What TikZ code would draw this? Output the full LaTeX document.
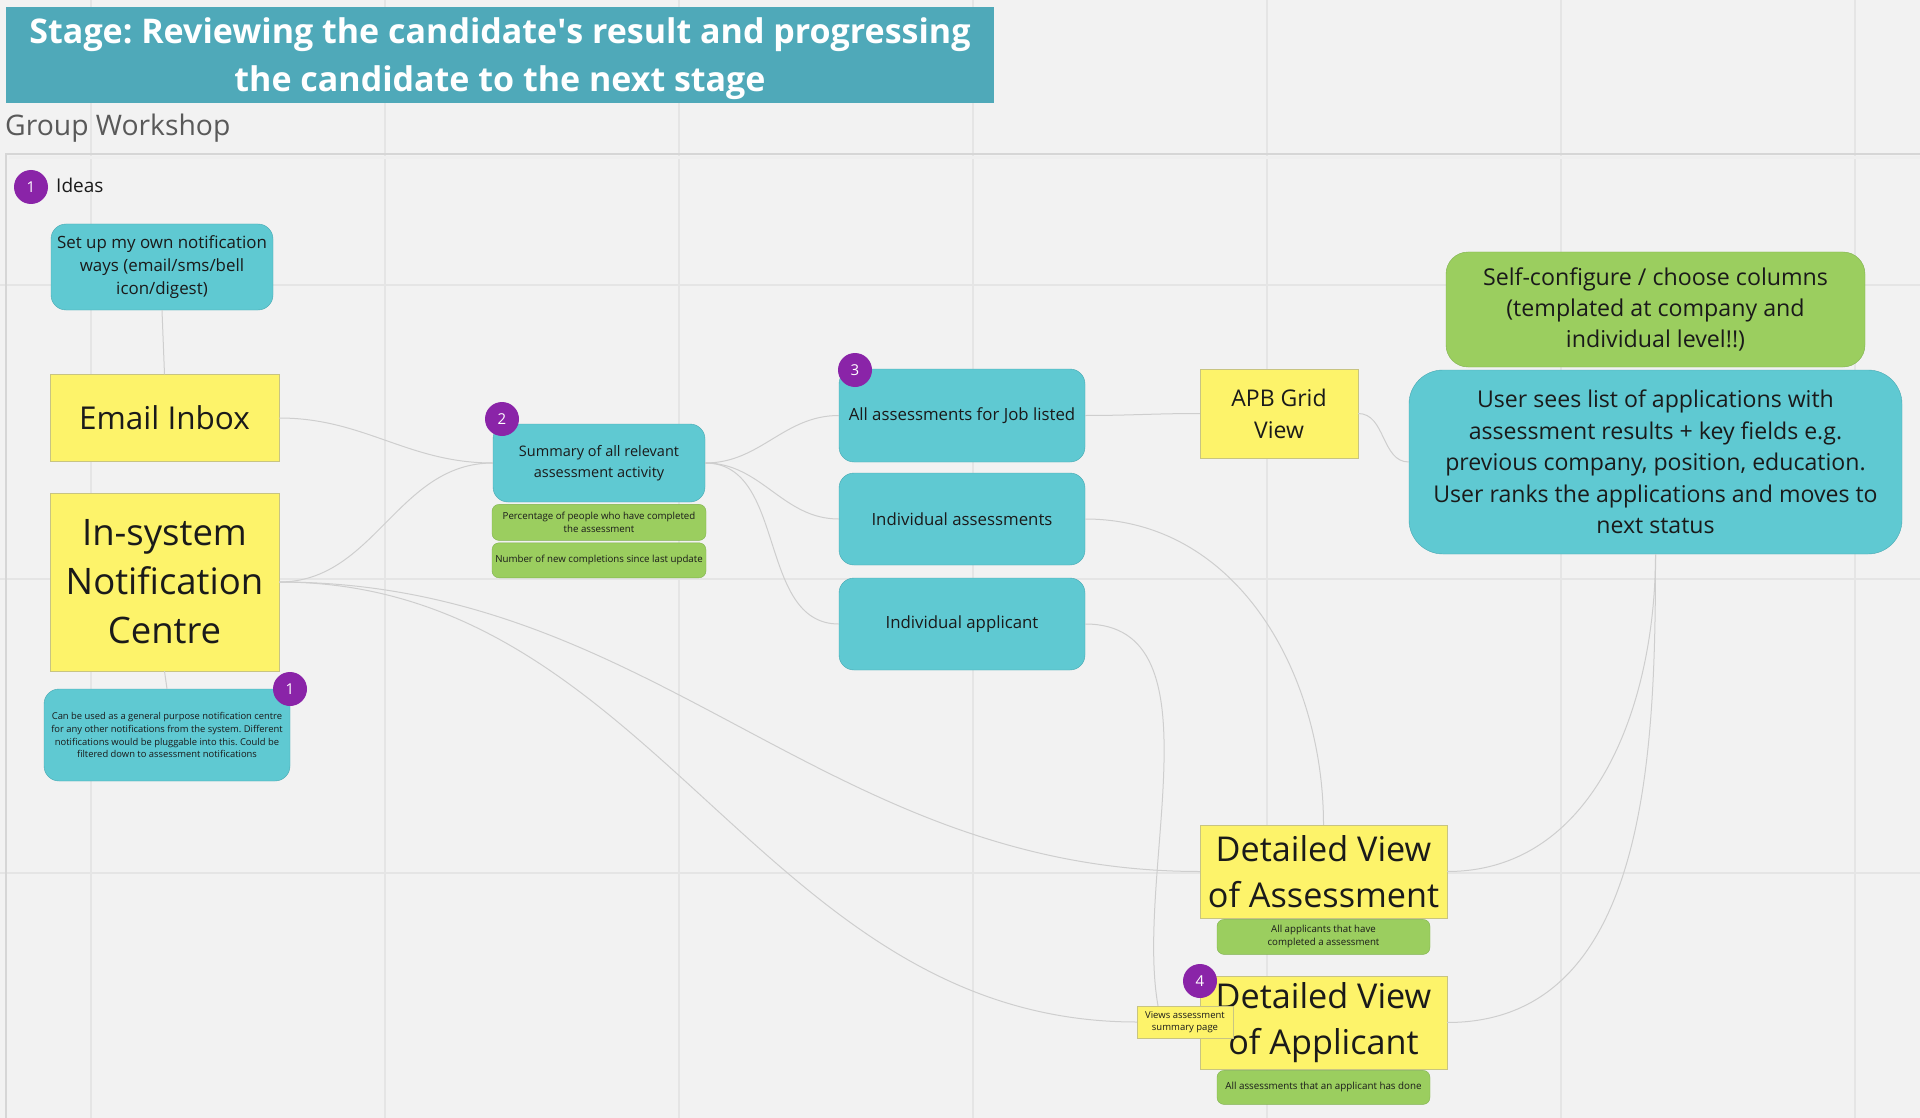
\documentclass[tikz,border=0pt]{standalone}
\usepackage{fontspec}
\setmainfont{Open Sans}
\usetikzlibrary{positioning, calc}
\frenchspacing
\definecolor{boardgrey}{RGB}{242,242,242}
\definecolor{gridgrey}{RGB}{229,229,229}
\definecolor{framegrey}{RGB}{214,214,214}
\definecolor{bannerteal}{RGB}{79,169,185}
\definecolor{ideacyan}{RGB}{95,201,210}
\definecolor{ideacyanline}{RGB}{72,168,178}
\definecolor{stickyyellow}{RGB}{253,243,106}
\definecolor{stickyline}{RGB}{200,196,130}
\definecolor{notegreen}{RGB}{155,206,95}
\definecolor{notegreenline}{RGB}{128,178,78}
\definecolor{badgepurple}{RGB}{138,36,168}
\definecolor{linkgrey}{RGB}{206,206,206}
\definecolor{inktext}{RGB}{26,26,26}
\newcommand{\fsz}[2]{\fontsize{#1}{#2}\selectfont}
\tikzset{
	idea/.style={draw=ideacyanline, fill=ideacyan, rounded corners=15pt, align=center, text=inktext, inner sep=0pt},
	screen/.style={draw=stickyline, fill=stickyyellow, align=center, text=inktext, inner sep=0pt},
	note/.style={draw=notegreenline, fill=notegreen, rounded corners=7pt, align=center, text=inktext, inner sep=0pt},
	badge/.style={circle, fill=badgepurple, text=white, minimum size=34pt, inner sep=0pt, font=\fsz{15}{18}},
	link/.style={draw=linkgrey, line width=1pt}
}

\begin{document}
\begin{tikzpicture}[x=1pt, y=-1pt]
	\useasboundingbox (0,0) rectangle (1920,1118);
	\fill[boardgrey] (0,0) rectangle (1920,1118);
	% board grid
	\foreach \gx in {91,385,...,1920} \draw[gridgrey, line width=1.5pt] (\gx,0) -- (\gx,1118);
	\foreach \gy in {285,579,873} \draw[gridgrey, line width=1.5pt] (0,\gy) -- (1920,\gy);
	\draw[framegrey, line width=2pt] (1930,154) -- (6,154) -- (6,1130);
	\draw[gridgrey!60, line width=3pt] (9,157.5) -- (1930,157.5);

	\fill[bannerteal] (6,7) rectangle (994,103);
	\node[text=white, align=center, inner sep=0pt, font=\bfseries\fsz{34}{48}] (title) at (500,59) {Stage: Reviewing the candidate\textquotesingle s result and progressing\\the candidate to the next stage};
	\node[anchor=west, inner sep=0pt, text=black!65, font=\fsz{28.3}{34}] (workshop) at (5,128) {Group Workshop};

	\node[badge] (ideasbadge) at (31,187) {1};
	\node[anchor=west, inner sep=0pt, text=inktext, font=\fsz{19}{22}] (ideas) at (56,185) {Ideas};

	% notification column
	\node[idea, minimum width=222pt, minimum height=86pt, font=\fsz{16.9}{23}] (setup) at (162,267) {Set up my own notification\\ways (email/sms/bell\\icon/digest)};
	\node[screen, minimum width=229pt, minimum height=87pt, font=\fsz{31.5}{36}] (email) at (164.5,418) {Email Inbox};
	\node[screen, minimum width=229pt, minimum height=178pt, font=\fsz{36.5}{49}] (insys) at (164.5,582) {In-system\\Notification\\Centre};
	\node[idea, minimum width=246pt, minimum height=92pt, font=\fsz{9.4}{12.9}] (general) at (167,735) {Can be used as a general purpose notification centre\\for any other notifications from the system. Different\\notifications would be pluggable into this. Could be\\filtered down to assessment notifications};

	% summary
	\node[idea, minimum width=212pt, minimum height=78pt, font=\fsz{14.5}{21}] (summary) at (599,463) {Summary of all relevant\\assessment activity};
	\node[note, minimum width=214pt, minimum height=36pt, font=\fsz{9.7}{13}, below=2pt of summary] (pct) {Percentage of people who have completed\\the assessment};
	\node[note, minimum width=214pt, minimum height=35pt, font=\fsz{9.7}{13}, below=2pt of pct] (newnum) {Number of new completions since last update};

	% views
	\node[idea, minimum width=246pt, minimum height=93pt, font=\fsz{16.8}{20}] (alljob) at (962,415.5) {All assessments for Job listed};
	\node[idea, minimum width=246pt, minimum height=92pt, font=\fsz{16.8}{20}] (indass) at (962,519) {Individual assessments};
	\node[idea, minimum width=246pt, minimum height=92pt, font=\fsz{16.8}{20}] (indapp) at (962,624) {Individual applicant};
	\node[screen, minimum width=158pt, minimum height=89pt, font=\fsz{23}{32}] (apb) at (1279,413.5) {APB Grid\\View};
	\node[note, rounded corners=22pt, minimum width=419pt, minimum height=115pt, font=\fsz{23.2}{31}] (selfcfg) at (1655.5,309.5) {Self-configure / choose columns\\(templated at company and\\individual level!!)};
	\node[idea, rounded corners=34pt, minimum width=493pt, minimum height=184pt, font=\fsz{23.1}{31.5}] (usersees) at (1655.5,462) {User sees list of applications with\\assessment results + key fields e.g.\\previous company, position, education.\\User ranks the applications and moves to\\next status};

	% detailed views
	\node[screen, minimum width=247pt, minimum height=93pt, font=\fsz{34.2}{46}] (detass) at (1323.5,871.5) {Detailed View\\of Assessment};
	\node[note, minimum width=213pt, minimum height=35pt, font=\fsz{9.7}{13}, below=1pt of detass] (allappl) {All applicants that have\\completed a assessment};
	\node[screen, minimum width=247pt, minimum height=93pt, font=\fsz{34.2}{46}] (detapp) at (1323.5,1022.5) {Detailed View\\of Applicant};
	\node[note, minimum width=213pt, minimum height=34pt, font=\fsz{9.8}{13}, below=1pt of detapp] (alldone) {All assessments that an applicant has done};
	\node[screen, minimum width=96pt, minimum height=32pt, font=\fsz{9.5}{12.5}] (viewsnote) at (1185,1022) {Views assessment\\summary page};

	% connectors
	\draw[link] (setup.south) -- (email.north);
	\draw[link] (insys.south) -- (general.north);
	\draw[link] (email.east) to[out=0, in=180] (summary.west);
	\draw[link] (insys.east) to[out=0, in=180] (summary.west);
	\draw[link] (insys.east) to[out=0, in=180] (detass.west);
	\draw[link] (insys.east) to[out=0, in=180] (viewsnote.west);
	\draw[link] (summary.east) to[out=0, in=180] (alljob.west);
	\draw[link] (summary.east) to[out=0, in=180] (indass.west);
	\draw[link] (summary.east) to[out=0, in=180] (indapp.west);
	\draw[link] (alljob.east) to[out=0, in=180] (apb.west);
	\draw[link] (apb.east) to[out=0, in=180] (usersees.west);
	\draw[link] (indass.east) to[out=0, in=90] (detass.north);
	\draw[link] (indapp.east) to[out=0, in=100, looseness=0.9] ([xshift=-27pt]viewsnote.north);
	\draw[link] (usersees.south) to[out=-90, in=0] (detass.east);
	\draw[link] (usersees.south) to[out=-90, in=0] (detapp.east);

	% step badges
	\node[badge] (badgeone) at (290,689) {1};
	\node[badge] (badgetwo) at (502,419) {2};
	\node[badge] (badgethree) at (855,370) {3};
	\node[badge] (badgefour) at (1200,981) {4};
\end{tikzpicture}
\end{document}
